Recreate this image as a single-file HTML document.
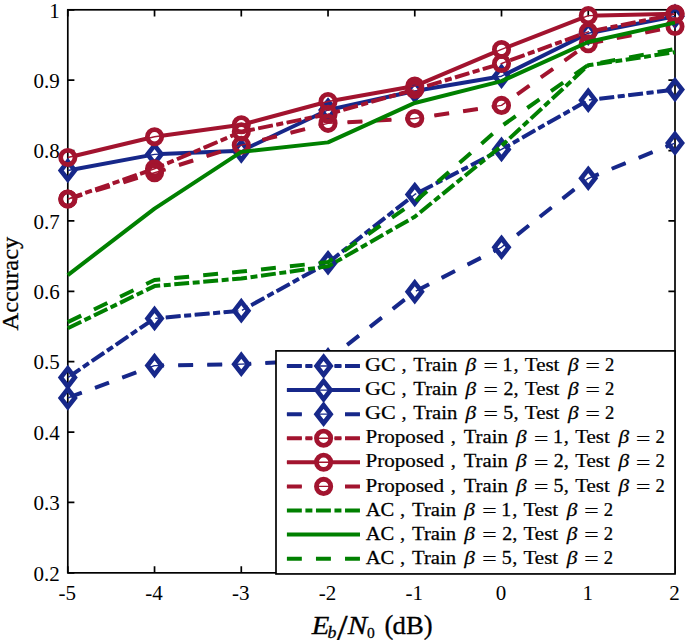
<!DOCTYPE html>
<html><head><meta charset="utf-8"><title>Accuracy vs Eb/N0</title>
<style>html,body{margin:0;padding:0;background:#fff}body{width:685px;height:640px;overflow:hidden}</style></head>
<body>
<svg width="685" height="640" viewBox="0 0 685 640" style="display:block">
<rect width="685" height="640" fill="#fff"/>
<g stroke="#000" stroke-width="1.7" fill="none" stroke-linecap="square">
<rect x="67.8" y="9.8" width="607.2" height="563.0500000000001"/>
</g>
<path d="M67.80 572.85V566.25M67.80 9.8V16.4M154.54 572.85V566.25M154.54 9.8V16.4M241.29 572.85V566.25M241.29 9.8V16.4M328.03 572.85V566.25M328.03 9.8V16.4M414.77 572.85V566.25M414.77 9.8V16.4M501.51 572.85V566.25M501.51 9.8V16.4M588.26 572.85V566.25M588.26 9.8V16.4M675.00 572.85V566.25M675.00 9.8V16.4M67.8 572.85H74.39999999999999M675.0 572.85H668.4M67.8 502.47H74.39999999999999M675.0 502.47H668.4M67.8 432.09H74.39999999999999M675.0 432.09H668.4M67.8 361.71H74.39999999999999M675.0 361.71H668.4M67.8 291.33H74.39999999999999M675.0 291.33H668.4M67.8 220.94H74.39999999999999M675.0 220.94H668.4M67.8 150.56H74.39999999999999M675.0 150.56H668.4M67.8 80.18H74.39999999999999M675.0 80.18H668.4M67.8 9.80H74.39999999999999M675.0 9.80H668.4" stroke="#000" stroke-width="1.7" fill="none"/>
<g font-family="'Liberation Serif', serif" font-size="21" fill="#000">
<text x="67.30" y="600.3" text-anchor="middle">-5</text>
<text x="154.04" y="600.3" text-anchor="middle">-4</text>
<text x="240.79" y="600.3" text-anchor="middle">-3</text>
<text x="327.53" y="600.3" text-anchor="middle">-2</text>
<text x="414.27" y="600.3" text-anchor="middle">-1</text>
<text x="501.01" y="600.3" text-anchor="middle">0</text>
<text x="587.76" y="600.3" text-anchor="middle">1</text>
<text x="674.50" y="600.3" text-anchor="middle">2</text>
<text x="59.8" y="580.55" text-anchor="end">0.2</text>
<text x="59.8" y="510.17" text-anchor="end">0.3</text>
<text x="59.8" y="439.79" text-anchor="end">0.4</text>
<text x="59.8" y="369.41" text-anchor="end">0.5</text>
<text x="59.8" y="299.03" text-anchor="end">0.6</text>
<text x="59.8" y="228.64" text-anchor="end">0.7</text>
<text x="59.8" y="158.26" text-anchor="end">0.8</text>
<text x="59.8" y="87.88" text-anchor="end">0.9</text>
<text x="59.8" y="17.50" text-anchor="end">1</text>
</g>
<g>
<mask id="mGC1" maskUnits="userSpaceOnUse" x="0" y="0" width="685" height="640"><rect width="685" height="640" fill="#fff"/><path d="M67.80 368.55L74.80 377.55L67.80 386.55L60.80 377.55Z" fill="#000"/><path d="M154.54 309.41L161.54 318.41L154.54 327.41L147.54 318.41Z" fill="#000"/><path d="M241.29 301.66L248.29 310.66L241.29 319.66L234.29 310.66Z" fill="#000"/><path d="M328.03 253.78L335.03 262.78L328.03 271.78L321.03 262.78Z" fill="#000"/><path d="M414.77 185.48L421.77 194.48L414.77 203.48L407.77 194.48Z" fill="#000"/><path d="M501.51 140.42L508.51 149.42L501.51 158.42L494.51 149.42Z" fill="#000"/><path d="M588.26 91.13L595.26 100.13L588.26 109.13L581.26 100.13Z" fill="#000"/><path d="M675.00 80.57L682.00 89.57L675.00 98.57L668.00 89.57Z" fill="#000"/><path d="M323.60 357.00L330.60 366.00L323.60 375.00L316.60 366.00Z" fill="#000"/></mask>
<polyline points="67.80,377.55 154.54,318.41 241.29,310.66 328.03,262.78 414.77,194.48 501.51,149.42 588.26,100.13 675.00,89.57" fill="none" stroke="#17288a" stroke-width="4.0" stroke-linejoin="round" stroke-dasharray="14.93 3.58 6.97 3.58" mask="url(#mGC1)"/>
<polyline points="67.80,377.55 154.54,318.41 241.29,310.66 328.03,262.78 414.77,194.48 501.51,149.42 588.26,100.13 675.00,89.57" fill="none" stroke="#17288a" stroke-width="1.4" stroke-linejoin="round" stroke-dasharray="14.93 3.58 6.97 3.58"/>
<path d="M67.80 368.55L74.80 377.55L67.80 386.55L60.80 377.55Z" fill="none" stroke="#17288a" stroke-width="4.7" stroke-linejoin="miter" stroke-miterlimit="10"/>
<path d="M154.54 309.41L161.54 318.41L154.54 327.41L147.54 318.41Z" fill="none" stroke="#17288a" stroke-width="4.7" stroke-linejoin="miter" stroke-miterlimit="10"/>
<path d="M241.29 301.66L248.29 310.66L241.29 319.66L234.29 310.66Z" fill="none" stroke="#17288a" stroke-width="4.7" stroke-linejoin="miter" stroke-miterlimit="10"/>
<path d="M328.03 253.78L335.03 262.78L328.03 271.78L321.03 262.78Z" fill="none" stroke="#17288a" stroke-width="4.7" stroke-linejoin="miter" stroke-miterlimit="10"/>
<path d="M414.77 185.48L421.77 194.48L414.77 203.48L407.77 194.48Z" fill="none" stroke="#17288a" stroke-width="4.7" stroke-linejoin="miter" stroke-miterlimit="10"/>
<path d="M501.51 140.42L508.51 149.42L501.51 158.42L494.51 149.42Z" fill="none" stroke="#17288a" stroke-width="4.7" stroke-linejoin="miter" stroke-miterlimit="10"/>
<path d="M588.26 91.13L595.26 100.13L588.26 109.13L581.26 100.13Z" fill="none" stroke="#17288a" stroke-width="4.7" stroke-linejoin="miter" stroke-miterlimit="10"/>
<path d="M675.00 80.57L682.00 89.57L675.00 98.57L668.00 89.57Z" fill="none" stroke="#17288a" stroke-width="4.7" stroke-linejoin="miter" stroke-miterlimit="10"/>
</g>
<g>
<mask id="mGC2" maskUnits="userSpaceOnUse" x="0" y="0" width="685" height="640"><rect width="685" height="640" fill="#fff"/><path d="M67.80 161.54L74.80 170.54L67.80 179.54L60.80 170.54Z" fill="#000"/><path d="M154.54 145.35L161.54 154.35L154.54 163.35L147.54 154.35Z" fill="#000"/><path d="M241.29 141.82L248.29 150.82L241.29 159.82L234.29 150.82Z" fill="#000"/><path d="M328.03 100.99L335.03 109.99L328.03 118.99L321.03 109.99Z" fill="#000"/><path d="M414.77 81.97L421.77 90.97L414.77 99.97L407.77 90.97Z" fill="#000"/><path d="M501.51 67.19L508.51 76.19L501.51 85.19L494.51 76.19Z" fill="#000"/><path d="M588.26 24.24L595.26 33.24L588.26 42.24L581.26 33.24Z" fill="#000"/><path d="M675.00 7.34L682.00 16.34L675.00 25.34L668.00 16.34Z" fill="#000"/><path d="M323.60 381.08L330.60 390.08L323.60 399.08L316.60 390.08Z" fill="#000"/></mask>
<polyline points="67.80,170.54 154.54,154.35 241.29,150.82 328.03,109.99 414.77,90.97 501.51,76.19 588.26,33.24 675.00,16.34" fill="none" stroke="#17288a" stroke-width="4.0" stroke-linejoin="round" mask="url(#mGC2)"/>
<polyline points="67.80,170.54 154.54,154.35 241.29,150.82 328.03,109.99 414.77,90.97 501.51,76.19 588.26,33.24 675.00,16.34" fill="none" stroke="#17288a" stroke-width="1.4" stroke-linejoin="round"/>
<path d="M67.80 161.54L74.80 170.54L67.80 179.54L60.80 170.54Z" fill="none" stroke="#17288a" stroke-width="4.7" stroke-linejoin="miter" stroke-miterlimit="10"/>
<path d="M154.54 145.35L161.54 154.35L154.54 163.35L147.54 154.35Z" fill="none" stroke="#17288a" stroke-width="4.7" stroke-linejoin="miter" stroke-miterlimit="10"/>
<path d="M241.29 141.82L248.29 150.82L241.29 159.82L234.29 150.82Z" fill="none" stroke="#17288a" stroke-width="4.7" stroke-linejoin="miter" stroke-miterlimit="10"/>
<path d="M328.03 100.99L335.03 109.99L328.03 118.99L321.03 109.99Z" fill="none" stroke="#17288a" stroke-width="4.7" stroke-linejoin="miter" stroke-miterlimit="10"/>
<path d="M414.77 81.97L421.77 90.97L414.77 99.97L407.77 90.97Z" fill="none" stroke="#17288a" stroke-width="4.7" stroke-linejoin="miter" stroke-miterlimit="10"/>
<path d="M501.51 67.19L508.51 76.19L501.51 85.19L494.51 76.19Z" fill="none" stroke="#17288a" stroke-width="4.7" stroke-linejoin="miter" stroke-miterlimit="10"/>
<path d="M588.26 24.24L595.26 33.24L588.26 42.24L581.26 33.24Z" fill="none" stroke="#17288a" stroke-width="4.7" stroke-linejoin="miter" stroke-miterlimit="10"/>
<path d="M675.00 7.34L682.00 16.34L675.00 25.34L668.00 16.34Z" fill="none" stroke="#17288a" stroke-width="4.7" stroke-linejoin="miter" stroke-miterlimit="10"/>
</g>
<g>
<mask id="mGC5" maskUnits="userSpaceOnUse" x="0" y="0" width="685" height="640"><rect width="685" height="640" fill="#fff"/><path d="M67.80 388.97L74.80 397.97L67.80 406.97L60.80 397.97Z" fill="#000"/><path d="M154.54 356.58L161.54 365.58L154.54 374.58L147.54 365.58Z" fill="#000"/><path d="M241.29 355.17L248.29 364.17L241.29 373.17L234.29 364.17Z" fill="#000"/><path d="M328.03 350.95L335.03 359.95L328.03 368.95L321.03 359.95Z" fill="#000"/><path d="M414.77 282.65L421.77 291.65L414.77 300.65L407.77 291.65Z" fill="#000"/><path d="M501.51 238.29L508.51 247.29L501.51 256.29L494.51 247.29Z" fill="#000"/><path d="M588.26 169.29L595.26 178.29L588.26 187.29L581.26 178.29Z" fill="#000"/><path d="M675.00 134.08L682.00 143.08L675.00 152.08L668.00 143.08Z" fill="#000"/><path d="M323.60 405.16L330.60 414.16L323.60 423.16L316.60 414.16Z" fill="#000"/></mask>
<polyline points="67.80,397.97 154.54,365.58 241.29,364.17 328.03,359.95 414.77,291.65 501.51,247.29 588.26,178.29 675.00,143.08" fill="none" stroke="#17288a" stroke-width="4.0" stroke-linejoin="round" stroke-dasharray="14.93 14.13" mask="url(#mGC5)"/>
<polyline points="67.80,397.97 154.54,365.58 241.29,364.17 328.03,359.95 414.77,291.65 501.51,247.29 588.26,178.29 675.00,143.08" fill="none" stroke="#17288a" stroke-width="1.4" stroke-linejoin="round" stroke-dasharray="14.93 14.13"/>
<path d="M67.80 388.97L74.80 397.97L67.80 406.97L60.80 397.97Z" fill="none" stroke="#17288a" stroke-width="4.7" stroke-linejoin="miter" stroke-miterlimit="10"/>
<path d="M154.54 356.58L161.54 365.58L154.54 374.58L147.54 365.58Z" fill="none" stroke="#17288a" stroke-width="4.7" stroke-linejoin="miter" stroke-miterlimit="10"/>
<path d="M241.29 355.17L248.29 364.17L241.29 373.17L234.29 364.17Z" fill="none" stroke="#17288a" stroke-width="4.7" stroke-linejoin="miter" stroke-miterlimit="10"/>
<path d="M328.03 350.95L335.03 359.95L328.03 368.95L321.03 359.95Z" fill="none" stroke="#17288a" stroke-width="4.7" stroke-linejoin="miter" stroke-miterlimit="10"/>
<path d="M414.77 282.65L421.77 291.65L414.77 300.65L407.77 291.65Z" fill="none" stroke="#17288a" stroke-width="4.7" stroke-linejoin="miter" stroke-miterlimit="10"/>
<path d="M501.51 238.29L508.51 247.29L501.51 256.29L494.51 247.29Z" fill="none" stroke="#17288a" stroke-width="4.7" stroke-linejoin="miter" stroke-miterlimit="10"/>
<path d="M588.26 169.29L595.26 178.29L588.26 187.29L581.26 178.29Z" fill="none" stroke="#17288a" stroke-width="4.7" stroke-linejoin="miter" stroke-miterlimit="10"/>
<path d="M675.00 134.08L682.00 143.08L675.00 152.08L668.00 143.08Z" fill="none" stroke="#17288a" stroke-width="4.7" stroke-linejoin="miter" stroke-miterlimit="10"/>
</g>
<g>
<mask id="mP1" maskUnits="userSpaceOnUse" x="0" y="0" width="685" height="640"><rect width="685" height="640" fill="#fff"/><circle cx="67.80" cy="199.06" r="7.15" fill="#000"/><circle cx="154.54" cy="168.78" r="7.15" fill="#000"/><circle cx="241.29" cy="131.81" r="7.15" fill="#000"/><circle cx="328.03" cy="114.21" r="7.15" fill="#000"/><circle cx="414.77" cy="89.57" r="7.15" fill="#000"/><circle cx="501.51" cy="63.51" r="7.15" fill="#000"/><circle cx="588.26" cy="31.83" r="7.15" fill="#000"/><circle cx="675.00" cy="14.22" r="7.15" fill="#000"/><circle cx="323.60" cy="438.24" r="7.15" fill="#000"/></mask>
<polyline points="67.80,199.06 154.54,168.78 241.29,131.81 328.03,114.21 414.77,89.57 501.51,63.51 588.26,31.83 675.00,14.22" fill="none" stroke="#a2142f" stroke-width="4.0" stroke-linejoin="round" stroke-dasharray="14.93 3.58 6.97 3.58" mask="url(#mP1)"/>
<polyline points="67.80,199.06 154.54,168.78 241.29,131.81 328.03,114.21 414.77,89.57 501.51,63.51 588.26,31.83 675.00,14.22" fill="none" stroke="#a2142f" stroke-width="1.4" stroke-linejoin="round" stroke-dasharray="14.93 3.58 6.97 3.58"/>
<circle cx="67.80" cy="199.06" r="7.15" fill="none" stroke="#a2142f" stroke-width="4.8"/>
<circle cx="154.54" cy="168.78" r="7.15" fill="none" stroke="#a2142f" stroke-width="4.8"/>
<circle cx="241.29" cy="131.81" r="7.15" fill="none" stroke="#a2142f" stroke-width="4.8"/>
<circle cx="328.03" cy="114.21" r="7.15" fill="none" stroke="#a2142f" stroke-width="4.8"/>
<circle cx="414.77" cy="89.57" r="7.15" fill="none" stroke="#a2142f" stroke-width="4.8"/>
<circle cx="501.51" cy="63.51" r="7.15" fill="none" stroke="#a2142f" stroke-width="4.8"/>
<circle cx="588.26" cy="31.83" r="7.15" fill="none" stroke="#a2142f" stroke-width="4.8"/>
<circle cx="675.00" cy="14.22" r="7.15" fill="none" stroke="#a2142f" stroke-width="4.8"/>
</g>
<g>
<mask id="mP2" maskUnits="userSpaceOnUse" x="0" y="0" width="685" height="640"><rect width="685" height="640" fill="#fff"/><circle cx="67.80" cy="157.51" r="7.15" fill="#000"/><circle cx="154.54" cy="136.74" r="7.15" fill="#000"/><circle cx="241.29" cy="124.77" r="7.15" fill="#000"/><circle cx="328.03" cy="101.54" r="7.15" fill="#000"/><circle cx="414.77" cy="86.05" r="7.15" fill="#000"/><circle cx="501.51" cy="49.43" r="7.15" fill="#000"/><circle cx="588.26" cy="15.63" r="7.15" fill="#000"/><circle cx="675.00" cy="13.87" r="7.15" fill="#000"/><circle cx="323.60" cy="462.32" r="7.15" fill="#000"/></mask>
<polyline points="67.80,157.51 154.54,136.74 241.29,124.77 328.03,101.54 414.77,86.05 501.51,49.43 588.26,15.63 675.00,13.87" fill="none" stroke="#a2142f" stroke-width="4.0" stroke-linejoin="round" mask="url(#mP2)"/>
<polyline points="67.80,157.51 154.54,136.74 241.29,124.77 328.03,101.54 414.77,86.05 501.51,49.43 588.26,15.63 675.00,13.87" fill="none" stroke="#a2142f" stroke-width="1.4" stroke-linejoin="round"/>
<circle cx="67.80" cy="157.51" r="7.15" fill="none" stroke="#a2142f" stroke-width="4.8"/>
<circle cx="154.54" cy="136.74" r="7.15" fill="none" stroke="#a2142f" stroke-width="4.8"/>
<circle cx="241.29" cy="124.77" r="7.15" fill="none" stroke="#a2142f" stroke-width="4.8"/>
<circle cx="328.03" cy="101.54" r="7.15" fill="none" stroke="#a2142f" stroke-width="4.8"/>
<circle cx="414.77" cy="86.05" r="7.15" fill="none" stroke="#a2142f" stroke-width="4.8"/>
<circle cx="501.51" cy="49.43" r="7.15" fill="none" stroke="#a2142f" stroke-width="4.8"/>
<circle cx="588.26" cy="15.63" r="7.15" fill="none" stroke="#a2142f" stroke-width="4.8"/>
<circle cx="675.00" cy="13.87" r="7.15" fill="none" stroke="#a2142f" stroke-width="4.8"/>
</g>
<g>
<mask id="mP5" maskUnits="userSpaceOnUse" x="0" y="0" width="685" height="640"><rect width="685" height="640" fill="#fff"/><circle cx="67.80" cy="199.06" r="7.15" fill="#000"/><circle cx="154.54" cy="172.79" r="7.15" fill="#000"/><circle cx="241.29" cy="145.19" r="7.15" fill="#000"/><circle cx="328.03" cy="123.36" r="7.15" fill="#000"/><circle cx="414.77" cy="118.44" r="7.15" fill="#000"/><circle cx="501.51" cy="105.41" r="7.15" fill="#000"/><circle cx="588.26" cy="43.80" r="7.15" fill="#000"/><circle cx="675.00" cy="26.55" r="7.15" fill="#000"/><circle cx="323.60" cy="486.40" r="7.15" fill="#000"/></mask>
<polyline points="67.80,199.06 154.54,172.79 241.29,145.19 328.03,123.36 414.77,118.44 501.51,105.41 588.26,43.80 675.00,26.55" fill="none" stroke="#a2142f" stroke-width="4.0" stroke-linejoin="round" stroke-dasharray="14.93 14.13" mask="url(#mP5)"/>
<polyline points="67.80,199.06 154.54,172.79 241.29,145.19 328.03,123.36 414.77,118.44 501.51,105.41 588.26,43.80 675.00,26.55" fill="none" stroke="#a2142f" stroke-width="1.4" stroke-linejoin="round" stroke-dasharray="14.93 14.13"/>
<circle cx="67.80" cy="199.06" r="7.15" fill="none" stroke="#a2142f" stroke-width="4.8"/>
<circle cx="154.54" cy="172.79" r="7.15" fill="none" stroke="#a2142f" stroke-width="4.8"/>
<circle cx="241.29" cy="145.19" r="7.15" fill="none" stroke="#a2142f" stroke-width="4.8"/>
<circle cx="328.03" cy="123.36" r="7.15" fill="none" stroke="#a2142f" stroke-width="4.8"/>
<circle cx="414.77" cy="118.44" r="7.15" fill="none" stroke="#a2142f" stroke-width="4.8"/>
<circle cx="501.51" cy="105.41" r="7.15" fill="none" stroke="#a2142f" stroke-width="4.8"/>
<circle cx="588.26" cy="43.80" r="7.15" fill="none" stroke="#a2142f" stroke-width="4.8"/>
<circle cx="675.00" cy="26.55" r="7.15" fill="none" stroke="#a2142f" stroke-width="4.8"/>
</g>
<g>
<polyline points="67.80,328.26 154.54,286.09 241.29,278.48 328.03,266.30 414.77,216.73 501.51,145.90 588.26,65.27 675.00,52.25" fill="none" stroke="#008000" stroke-width="4.0" stroke-linejoin="round" stroke-dasharray="14.93 3.58 6.97 3.58"/>
</g>
<g>
<polyline points="67.80,275.10 154.54,208.56 241.29,151.88 328.03,142.38 414.77,102.94 501.51,81.12 588.26,41.97 675.00,22.67" fill="none" stroke="#008000" stroke-width="4.0" stroke-linejoin="round"/>
</g>
<g>
<polyline points="67.80,322.14 154.54,280.03 241.29,271.58 328.03,262.08 414.77,201.87 501.51,126.18 588.26,64.92 675.00,49.01" fill="none" stroke="#008000" stroke-width="4.0" stroke-linejoin="round" stroke-dasharray="14.93 14.13"/>
</g>
<rect x="276.0" y="350.9" width="399.0" height="223.05000000000007" fill="#fff" stroke="#000" stroke-width="1.7"/>
<g font-family="'Liberation Serif', serif" font-size="19" fill="#000" stroke="#000" stroke-width="0.25">
<path d="M286.9 366.00H360.0" fill="none" stroke="#17288a" stroke-width="4.0" stroke-dasharray="14.93 3.58 6.97 3.58" mask="url(#mGC1)"/>
<path d="M286.9 366.00H360.0" fill="none" stroke="#17288a" stroke-width="1.4" stroke-dasharray="14.93 3.58 6.97 3.58"/>
<path d="M323.60 357.00L330.60 366.00L323.60 375.00L316.60 366.00Z" fill="none" stroke="#17288a" stroke-width="4.7" stroke-linejoin="miter" stroke-miterlimit="10"/>
<text transform="translate(364.97,371.10) scale(1.163,1)">GC</text>
<text transform="translate(401.55,371.10) scale(1.07,1)">,</text>
<text transform="translate(413.27,371.10) scale(1.09,1)">Train</text>
<text transform="translate(465.54,371.10) scale(1.124,1)" font-style="italic">β</text>
<text transform="translate(483.50,372.30) scale(1.34,1)">=</text>
<text transform="translate(502.51,371.10) scale(1.05,1)">1</text>
<text transform="translate(513.45,371.10) scale(1.07,1)">,</text>
<text transform="translate(524.77,371.10) scale(1.106,1)">Test</text>
<text transform="translate(568.00,371.10) scale(1.124,1)" font-style="italic">β</text>
<text transform="translate(585.50,372.30) scale(1.34,1)">=</text>
<text transform="translate(605.00,371.10) scale(0.98,1)">2</text>
<path d="M286.9 390.08H360.0" fill="none" stroke="#17288a" stroke-width="4.0" mask="url(#mGC2)"/>
<path d="M286.9 390.08H360.0" fill="none" stroke="#17288a" stroke-width="1.4"/>
<path d="M323.60 381.08L330.60 390.08L323.60 399.08L316.60 390.08Z" fill="none" stroke="#17288a" stroke-width="4.7" stroke-linejoin="miter" stroke-miterlimit="10"/>
<text transform="translate(364.97,395.18) scale(1.163,1)">GC</text>
<text transform="translate(401.55,395.18) scale(1.07,1)">,</text>
<text transform="translate(413.27,395.18) scale(1.09,1)">Train</text>
<text transform="translate(465.54,395.18) scale(1.124,1)" font-style="italic">β</text>
<text transform="translate(483.50,396.38) scale(1.34,1)">=</text>
<text transform="translate(503.46,395.18) scale(1.05,1)">2</text>
<text transform="translate(513.45,395.18) scale(1.07,1)">,</text>
<text transform="translate(524.77,395.18) scale(1.106,1)">Test</text>
<text transform="translate(568.00,395.18) scale(1.124,1)" font-style="italic">β</text>
<text transform="translate(585.50,396.38) scale(1.34,1)">=</text>
<text transform="translate(605.00,395.18) scale(0.98,1)">2</text>
<path d="M286.9 414.16H360.0" fill="none" stroke="#17288a" stroke-width="4.0" stroke-dasharray="14.93 14.13" mask="url(#mGC5)"/>
<path d="M286.9 414.16H360.0" fill="none" stroke="#17288a" stroke-width="1.4" stroke-dasharray="14.93 14.13"/>
<path d="M323.60 405.16L330.60 414.16L323.60 423.16L316.60 414.16Z" fill="none" stroke="#17288a" stroke-width="4.7" stroke-linejoin="miter" stroke-miterlimit="10"/>
<text transform="translate(364.97,419.26) scale(1.163,1)">GC</text>
<text transform="translate(401.55,419.26) scale(1.07,1)">,</text>
<text transform="translate(413.27,419.26) scale(1.09,1)">Train</text>
<text transform="translate(465.54,419.26) scale(1.124,1)" font-style="italic">β</text>
<text transform="translate(483.50,420.46) scale(1.34,1)">=</text>
<text transform="translate(503.15,419.26) scale(1.05,1)">5</text>
<text transform="translate(513.45,419.26) scale(1.07,1)">,</text>
<text transform="translate(524.77,419.26) scale(1.106,1)">Test</text>
<text transform="translate(568.00,419.26) scale(1.124,1)" font-style="italic">β</text>
<text transform="translate(585.50,420.46) scale(1.34,1)">=</text>
<text transform="translate(605.00,419.26) scale(0.98,1)">2</text>
<path d="M286.9 438.24H360.0" fill="none" stroke="#a2142f" stroke-width="4.0" stroke-dasharray="14.93 3.58 6.97 3.58" mask="url(#mP1)"/>
<path d="M286.9 438.24H360.0" fill="none" stroke="#a2142f" stroke-width="1.4" stroke-dasharray="14.93 3.58 6.97 3.58"/>
<circle cx="323.60" cy="438.24" r="7.15" fill="none" stroke="#a2142f" stroke-width="4.8"/>
<text transform="translate(365.55,443.34) scale(1.11,1)">Proposed</text>
<text transform="translate(450.75,443.34) scale(1.07,1)">,</text>
<text transform="translate(463.67,443.34) scale(1.09,1)">Train</text>
<text transform="translate(515.94,443.34) scale(1.124,1)" font-style="italic">β</text>
<text transform="translate(533.90,444.54) scale(1.34,1)">=</text>
<text transform="translate(552.91,443.34) scale(1.05,1)">1</text>
<text transform="translate(563.85,443.34) scale(1.07,1)">,</text>
<text transform="translate(575.17,443.34) scale(1.106,1)">Test</text>
<text transform="translate(618.40,443.34) scale(1.124,1)" font-style="italic">β</text>
<text transform="translate(635.90,444.54) scale(1.34,1)">=</text>
<text transform="translate(655.40,443.34) scale(0.98,1)">2</text>
<path d="M286.9 462.32H360.0" fill="none" stroke="#a2142f" stroke-width="4.0" mask="url(#mP2)"/>
<path d="M286.9 462.32H360.0" fill="none" stroke="#a2142f" stroke-width="1.4"/>
<circle cx="323.60" cy="462.32" r="7.15" fill="none" stroke="#a2142f" stroke-width="4.8"/>
<text transform="translate(365.55,467.42) scale(1.11,1)">Proposed</text>
<text transform="translate(450.75,467.42) scale(1.07,1)">,</text>
<text transform="translate(463.67,467.42) scale(1.09,1)">Train</text>
<text transform="translate(515.94,467.42) scale(1.124,1)" font-style="italic">β</text>
<text transform="translate(533.90,468.62) scale(1.34,1)">=</text>
<text transform="translate(553.86,467.42) scale(1.05,1)">2</text>
<text transform="translate(563.85,467.42) scale(1.07,1)">,</text>
<text transform="translate(575.17,467.42) scale(1.106,1)">Test</text>
<text transform="translate(618.40,467.42) scale(1.124,1)" font-style="italic">β</text>
<text transform="translate(635.90,468.62) scale(1.34,1)">=</text>
<text transform="translate(655.40,467.42) scale(0.98,1)">2</text>
<path d="M286.9 486.40H360.0" fill="none" stroke="#a2142f" stroke-width="4.0" stroke-dasharray="14.93 14.13" mask="url(#mP5)"/>
<path d="M286.9 486.40H360.0" fill="none" stroke="#a2142f" stroke-width="1.4" stroke-dasharray="14.93 14.13"/>
<circle cx="323.60" cy="486.40" r="7.15" fill="none" stroke="#a2142f" stroke-width="4.8"/>
<text transform="translate(365.55,491.50) scale(1.11,1)">Proposed</text>
<text transform="translate(450.75,491.50) scale(1.07,1)">,</text>
<text transform="translate(463.67,491.50) scale(1.09,1)">Train</text>
<text transform="translate(515.94,491.50) scale(1.124,1)" font-style="italic">β</text>
<text transform="translate(533.90,492.70) scale(1.34,1)">=</text>
<text transform="translate(553.55,491.50) scale(1.05,1)">5</text>
<text transform="translate(563.85,491.50) scale(1.07,1)">,</text>
<text transform="translate(575.17,491.50) scale(1.106,1)">Test</text>
<text transform="translate(618.40,491.50) scale(1.124,1)" font-style="italic">β</text>
<text transform="translate(635.90,492.70) scale(1.34,1)">=</text>
<text transform="translate(655.40,491.50) scale(0.98,1)">2</text>
<path d="M286.9 510.48H360.0" fill="none" stroke="#008000" stroke-width="4.0" stroke-dasharray="14.93 3.58 6.97 3.58"/>
<text transform="translate(365.68,515.58) scale(1.084,1)">AC</text>
<text transform="translate(399.95,515.58) scale(1.07,1)">,</text>
<text transform="translate(411.97,515.58) scale(1.09,1)">Train</text>
<text transform="translate(464.24,515.58) scale(1.124,1)" font-style="italic">β</text>
<text transform="translate(482.20,516.78) scale(1.34,1)">=</text>
<text transform="translate(501.21,515.58) scale(1.05,1)">1</text>
<text transform="translate(512.15,515.58) scale(1.07,1)">,</text>
<text transform="translate(523.47,515.58) scale(1.106,1)">Test</text>
<text transform="translate(566.70,515.58) scale(1.124,1)" font-style="italic">β</text>
<text transform="translate(584.20,516.78) scale(1.34,1)">=</text>
<text transform="translate(603.70,515.58) scale(0.98,1)">2</text>
<path d="M286.9 534.56H360.0" fill="none" stroke="#008000" stroke-width="4.0"/>
<text transform="translate(365.68,539.66) scale(1.084,1)">AC</text>
<text transform="translate(399.95,539.66) scale(1.07,1)">,</text>
<text transform="translate(411.97,539.66) scale(1.09,1)">Train</text>
<text transform="translate(464.24,539.66) scale(1.124,1)" font-style="italic">β</text>
<text transform="translate(482.20,540.86) scale(1.34,1)">=</text>
<text transform="translate(502.16,539.66) scale(1.05,1)">2</text>
<text transform="translate(512.15,539.66) scale(1.07,1)">,</text>
<text transform="translate(523.47,539.66) scale(1.106,1)">Test</text>
<text transform="translate(566.70,539.66) scale(1.124,1)" font-style="italic">β</text>
<text transform="translate(584.20,540.86) scale(1.34,1)">=</text>
<text transform="translate(603.70,539.66) scale(0.98,1)">2</text>
<path d="M286.9 558.64H360.0" fill="none" stroke="#008000" stroke-width="4.0" stroke-dasharray="14.93 14.13"/>
<text transform="translate(365.68,563.74) scale(1.084,1)">AC</text>
<text transform="translate(399.95,563.74) scale(1.07,1)">,</text>
<text transform="translate(411.97,563.74) scale(1.09,1)">Train</text>
<text transform="translate(464.24,563.74) scale(1.124,1)" font-style="italic">β</text>
<text transform="translate(482.20,564.94) scale(1.34,1)">=</text>
<text transform="translate(501.85,563.74) scale(1.05,1)">5</text>
<text transform="translate(512.15,563.74) scale(1.07,1)">,</text>
<text transform="translate(523.47,563.74) scale(1.106,1)">Test</text>
<text transform="translate(566.70,563.74) scale(1.124,1)" font-style="italic">β</text>
<text transform="translate(584.20,564.94) scale(1.34,1)">=</text>
<text transform="translate(603.70,563.74) scale(0.98,1)">2</text>
</g>
<g font-family="'Liberation Serif', serif" fill="#000" stroke="#000" stroke-width="0.3">
<text transform="translate(18,330.4) rotate(-90)" font-size="24" textLength="93.6" lengthAdjust="spacingAndGlyphs">Accuracy</text>
<text transform="translate(311.75,633.8) scale(1.15,1)" font-size="25" font-style="italic">E</text>
<text transform="translate(327.4,637.5) scale(1.05,1)" font-size="17" font-style="italic">b</text>
<text transform="translate(337.1,639.8) scale(1.56,1.47)" font-size="24.5">/</text>
<text transform="translate(347.85,633.8) scale(1.165,1)" font-size="25" font-style="italic">N</text>
<text transform="translate(366.95,637.5) scale(1,1)" font-size="15.5">0</text>
<text transform="translate(384.5,634.2) scale(1,1)" font-size="26.6">(</text>
<text transform="translate(392.6,633.8) scale(1.093,1)" font-size="24.5">dB</text>
<text transform="translate(423.8,634.2) scale(1,1)" font-size="26.6">)</text>
</g>
</svg>
</body></html>
